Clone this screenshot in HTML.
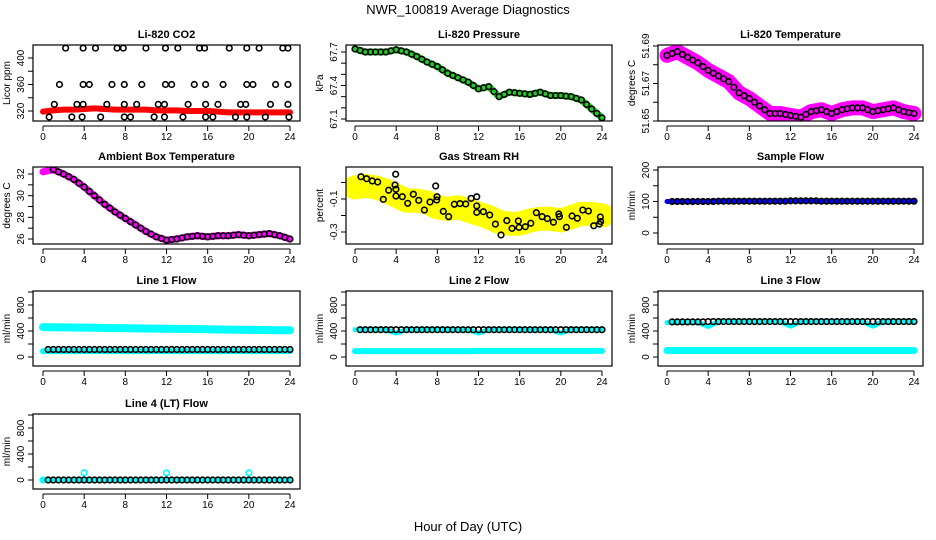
<!DOCTYPE html>
<html><head><meta charset="utf-8"><style>
html,body{margin:0;padding:0;background:#fff;}
svg{display:block;font-family:"Liberation Sans",Arial,sans-serif;}
</style></head><body>
<svg id="chart" width="936" height="540" viewBox="0 0 936 540">
<text x="468" y="14" text-anchor="middle" font-size="13">NWR_100819  Average Diagnostics</text>
<text x="468" y="531" text-anchor="middle" font-size="13">Hour of Day (UTC)</text>
</svg>
<script>
// ---- data ----
const hours = [0,1,2,3,4,5,6,7,8,9,10,11,12,13,14,15,16,17,18,19,20,21,22,23,24];
const xTicks = [0,4,8,12,16,20,24];
const co2Band = [319,321,322,322,323,324,323,322,322,322,322,321,321,321,320,320,320,319,318,318,318,318,318,318,318];
const co2PtHours = [2.2,3.9,5.1,7.2,7.8,10.0,11.9,13.1,15.2,15.7,18.1,19.8,21.0,23.3,23.8,1.6,3.9,4.5,6.7,7.9,9.6,11.9,12.5,14.7,15.8,17.5,19.8,20.4,22.6,23.8,1.1,3.3,3.9,6.2,7.9,9.1,11.2,11.8,14.1,15.8,17.0,19.2,19.7,22.1,23.8,0.6,2.8,3.8,5.6,7.9,8.5,10.8,11.8,13.6,15.8,16.5,18.7,19.8,21.6,23.9];
const co2PtVals = [415,415,415,415,415,415,415,415,415,415,415,415,415,415,415,360,360,360,360,360,360,360,360,360,360,360,360,360,360,360,330,330,330,330,330,330,330,330,330,330,330,330,330,330,330,311,311,311,311,311,311,311,311,311,311,311,311,311,311,311];
const pressure = [67.727,67.70,67.70,67.70,67.72,67.70,67.66,67.61,67.57,67.51,67.47,67.43,67.37,67.39,67.30,67.34,67.33,67.32,67.34,67.31,67.31,67.30,67.27,67.19,67.11];
const licorTemp = [51.685,51.687,51.684,51.681,51.677,51.674,51.671,51.665,51.662,51.658,51.654,51.654,51.653,51.652,51.655,51.656,51.654,51.656,51.657,51.657,51.655,51.656,51.657,51.655,51.654];
const ambient = [32.2,32.4,32.0,31.5,30.8,30.0,29.2,28.5,27.9,27.3,26.7,26.2,25.9,26.0,26.2,26.3,26.2,26.3,26.3,26.4,26.3,26.4,26.5,26.3,26.0];
const rhBand = [-0.03,-0.02,-0.03,-0.05,-0.08,-0.11,-0.11,-0.12,-0.15,-0.16,-0.15,-0.17,-0.19,-0.21,-0.24,-0.25,-0.25,-0.23,-0.22,-0.22,-0.23,-0.21,-0.19,-0.19,-0.20];
const rhPtHours = [0.58,1.13,1.68,2.2,2.75,3.27,3.89,3.95,3.98,3.98,4.6,5.12,5.67,6.19,6.74,7.29,7.84,7.94,7.97,8.58,9.1,9.65,10.2,10.76,11.28,11.83,11.83,11.83,12.47,13.09,13.64,14.19,14.75,15.26,15.87,15.94,16.55,17.08,17.62,18.18,18.69,19.28,19.8,19.86,20.54,21.09,21.6,22.13,22.68,23.2,23.84,23.87,23.74];
const rhPtVals = [0.035,0.023,0.009,0.003,-0.102,-0.047,-0.015,0.05,-0.041,-0.082,-0.086,-0.126,-0.071,-0.108,-0.167,-0.118,-0.021,-0.106,-0.086,-0.175,-0.207,-0.132,-0.128,-0.13,-0.096,-0.086,-0.142,-0.181,-0.177,-0.197,-0.252,-0.318,-0.231,-0.278,-0.233,-0.272,-0.268,-0.247,-0.183,-0.207,-0.219,-0.241,-0.191,-0.207,-0.272,-0.203,-0.217,-0.167,-0.173,-0.262,-0.209,-0.237,-0.252];
const sampleFlow = [100,100,100,100,100,101,101,101,101,101,101,101,102,102,102,101,101,101,101,101,101,101,101,101,101];
const line1High = [460,458,456,454,452,450,446,444,442,440,438,436,434,432,430,428,426,424,422,420,418,416,414,412,412];
const line1Low = [90,90,90,90,90,90,90,90,90,90,90,90,90,90,90,90,90,90,90,90,90,90,90,90,90];
const line1Black = [115,115,115,115,115,115,115,115,115,115,115,115,115,115,115,115,115,115,115,115,115,115,115,115,115];
const line2High = [420,420,420,420,370,420,420,420,420,420,420,420,370,420,420,420,420,420,420,420,370,420,420,420,420];
const line2Low = [90,90,90,90,90,90,90,90,90,90,90,90,95,95,95,95,95,95,95,95,95,95,95,95,95];
const line2Black = [420,420,420,420,420,420,420,420,420,420,420,420,420,420,420,420,420,420,420,420,420,420,420,420,420];
const line3High = [530,535,535,535,470,545,545,545,545,545,545,545,475,545,545,545,545,545,545,545,475,545,545,545,545];
const line3Low = [100,100,100,100,100,100,100,100,100,100,100,100,100,100,100,100,100,100,100,100,100,100,100,100,100];
const line3Black = [540,540,540,540,545,545,545,545,545,545,545,545,545,545,545,545,545,545,545,545,545,545,545,545,545];
const line4Cyan = [0,0,0,0,110,0,0,0,0,0,0,0,110,0,0,0,0,0,0,0,110,0,0,0,0];
const line4Black = [0,0,0,0,0,0,0,0,0,0,0,0,0,0,0,0,0,0,0,0,0,0,0,0,0];

// ---- layout ----
const colL=[33,346,658], colR=[300,612,923], colX0=[43,355,667];
const rowT=[45,167,291,414], rowB=[121,244,366,489];
const NS='http://www.w3.org/2000/svg';
const svg=document.getElementById('chart');
function mk(tag,attrs,parent){const e=document.createElementNS(NS,tag);for(const k in attrs)e.setAttribute(k,attrs[k]);(parent||svg).appendChild(e);return e;}

function panel(c,r,title,ytitle,v1,p1,v2,p2,ticks,labels,name){
  const g=mk('g',{});
  
  
  const L=colL[c],R=colR[c],T=rowT[r],B=rowB[r],x0=colX0[c];
  const X=h=>x0+h*247/24;
  const Y=v=>p1+(v-v1)*(p2-p1)/(v2-v1);
  const clip='clip'+name;
  const cp=mk('clipPath',{id:clip},g);mk('rect',{x:L,y:T,width:R-L,height:B-T},cp);
  const plot=mk('g',{'clip-path':'url(#'+clip+')'},g);
  
  
  const box=mk('rect',{x:L,y:T,width:R-L,height:B-T,fill:'none',stroke:'#000','stroke-width':1.2},g);
  
  
  const t=mk('text',{x:(L+R)/2,y:T-7,'text-anchor':'middle','font-size':11,'font-weight':'bold'},g);
  t.textContent=title;
  
  
  const yt=mk('text',{x:0,y:0,'text-anchor':'middle','font-size':10,transform:`translate(${L-23},${(T+B)/2}) rotate(-90)`},g);
  yt.textContent=ytitle;
  
  
  // x axis
  mk('line',{x1:X(0),x2:X(24),y1:B+5,y2:B+5,stroke:'#000'},g);
  xTicks.forEach(h=>{
    mk('line',{x1:X(h),x2:X(h),y1:B+5,y2:B+10,stroke:'#000'},g);
    const tl=mk('text',{x:X(h),y:B+19,'text-anchor':'middle','font-size':10},g);
    tl.textContent=h;
    
    
  });
  // y axis
  mk('line',{x1:L,x2:L,y1:Y(ticks[0]),y2:Y(ticks[ticks.length-1]),stroke:'#000'},g);
  ticks.forEach((v,i)=>{
    mk('line',{x1:L-5,x2:L,y1:Y(v),y2:Y(v),stroke:'#000'},g);
    if(labels[i]){
      const yl=mk('text',{x:0,y:0,'text-anchor':'middle','font-size':10,transform:`translate(${L-9},${Y(v)}) rotate(-90)`},g);
      yl.textContent=labels[i];
      
      
    }
  });
  return {plot,X,Y};
}
function band(p,xs,vs,color,w,name){
  const pl=mk('polyline',{points:xs.map((h,i)=>p.X(h)+','+p.Y(vs[i])).join(' '),fill:'none',stroke:color,'stroke-width':w,'stroke-linejoin':'round','stroke-linecap':'round'},p.plot);
  
  
}
function dots(p,xs,vs,color,name,step){
  xs.forEach((h,i)=>{
    const c=mk('circle',{cx:p.X(h),cy:p.Y(vs[i]),r:2.8,fill:'none',stroke:color,'stroke-width':1.6},p.plot);
    
    
  });
}
// half-hour offsets for black average markers along series (repeats hourly value)
function denseDots(p,vs,color,name){
  vs.forEach((v,i)=>{
    [0,0.5].forEach(o=>{
      const h=hours[i]+o; if(h>24||h<0.5)return;
      const c=mk('circle',{cx:p.X(h),cy:p.Y(v),r:2.8,fill:'none',stroke:color,'stroke-width':1.6},p.plot);
      
      
    });
  });
}
function smoothDots(p,vs,color,name){
  vs.forEach((v,i)=>{
    const h=hours[i]; if(h<0.5 && vs===ambient) return;
    const c=mk('circle',{cx:p.X(h),cy:p.Y(v),r:2.8,fill:'none',stroke:color,'stroke-width':1.6},p.plot);
    
    
    if(i<vs.length-1){
      const c2=mk('circle',{cx:p.X(h+0.5),cy:p.Y((v+vs[i+1])/2),r:2.8,fill:'none',stroke:color,'stroke-width':1.6},p.plot);
      
      
    }
  });
}

// CO2
let p=panel(0,0,'Li-820 CO2','Licor ppm',320,111,400,58,[320,340,360,380,400],['320','','360','','400'],'co2');
band(p,hours,co2Band,'#ff0000',6,'co2-band');
dots(p,co2PtHours,co2PtVals,'#000','co2-point');
// Pressure
p=panel(1,0,'Li-820 Pressure','kPa',67.1,119,67.7,52,[67.1,67.2,67.3,67.4,67.5,67.6,67.7],['67.1','','','67.4','','','67.7'],'pressure');
band(p,hours,pressure,'#22cc22',7,'pressure-band');
smoothDots(p,pressure,'#000','pressure-point');
// Licor temp
p=panel(2,0,'Li-820 Temperature','degrees C',51.65,121,51.69,46,[51.65,51.66,51.67,51.68,51.69],['51.65','','51.67','','51.69'],'licor-temp');
band(p,hours,licorTemp,'#ff00ff',15,'licor-temp-band');
smoothDots(p,licorTemp,'#000','licor-temp-point');
// Ambient
p=panel(0,1,'Ambient Box Temperature','degrees C',26,239,32,174,[26,27,28,29,30,31,32],['26','','28','','30','','32'],'ambient-temp');
band(p,hours,ambient,'#ff00ff',7,'ambient-temp-band');
smoothDots(p,ambient,'#000','ambient-temp-point');
// RH
p=panel(1,1,'Gas Stream RH','percent',-0.3,232,-0.1,199,[-0.3,-0.2,-0.1,0.0],['-0.3','','-0.1',''],'rh');
band(p,hours,rhBand,'#ffff00',24,'rh-band');
dots(p,rhPtHours,rhPtVals,'#000','rh-point');
// Sample flow
p=panel(2,1,'Sample Flow','ml/min',0,233,200,170,[0,50,100,150,200],['0','','100','','200'],'sample-flow');
band(p,hours,sampleFlow,'#0000ff',5,'sample-flow-band');
denseDots(p,sampleFlow,'#000','sample-flow-point');
const flowTicks=[0,200,400,600,800,1000], flowLabels=['0','','400','','800',''];
// Line 1
p=panel(0,2,'Line 1 Flow','ml/min',0,357,400,331,flowTicks,flowLabels,'line1');
band(p,hours,line1High,'#00ffff',8,'line1-high-band');
band(p,hours,line1Low,'#00ffff',6,'line1-low-band');
denseDots(p,line1Black,'#000','line1-point');
// Line 2
p=panel(1,2,'Line 2 Flow','ml/min',0,357,400,331,flowTicks,flowLabels,'line2');
band(p,hours,line2High,'#00ffff',5,'line2-high-band');
band(p,hours,line2Low,'#00ffff',6,'line2-low-band');
denseDots(p,line2Black,'#000','line2-point');
// Line 3
p=panel(2,2,'Line 3 Flow','ml/min',0,357,400,331,flowTicks,flowLabels,'line3');
band(p,hours,line3High,'#00ffff',5,'line3-high-band');
band(p,hours,line3Low,'#00ffff',7,'line3-low-band');
denseDots(p,line3Black,'#000','line3-point');
// Line 4
p=panel(0,3,'Line 4 (LT) Flow','ml/min',0,480,400,454,flowTicks,flowLabels,'line4');
band(p,hours,line4Black,'#00ffff',5,'line4-band');
dots(p,hours,line4Cyan,'#00ffff','line4-cyan-point');
denseDots(p,line4Black,'#000','line4-point');
</script>
</body></html>
